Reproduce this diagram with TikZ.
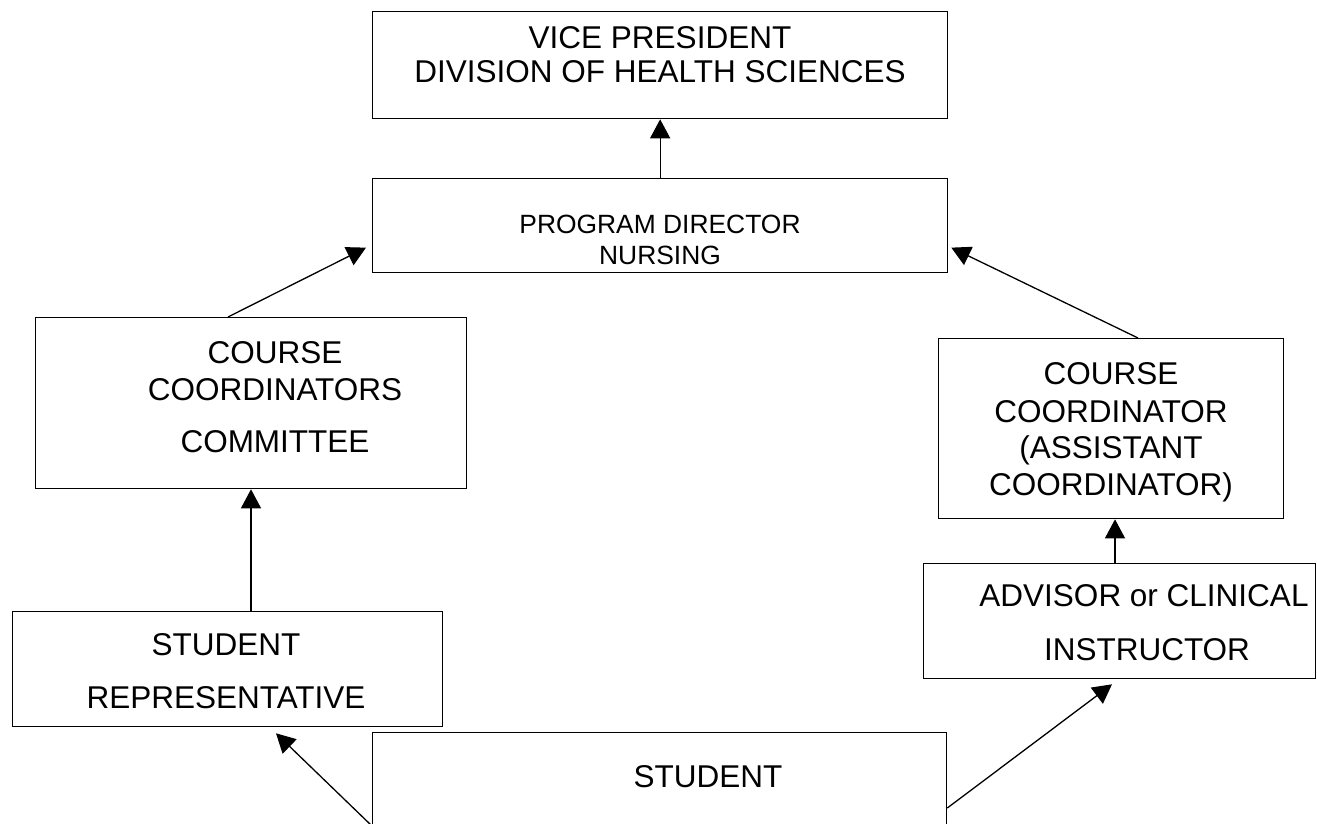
\documentclass[tikz,border=0pt]{standalone}
\usepackage{fontspec}
\setmainfont{Liberation Sans}
\usetikzlibrary{arrows.meta,calc}
\begin{document}
\begin{tikzpicture}[x=1pt,y=-1pt,
  box/.style={draw,line width=1.3pt,inner sep=0pt,anchor=north west},
  big/.style={font=\fontsize{31.5}{36}\selectfont,anchor=base,inner sep=0pt},
  small/.style={font=\fontsize{26.4}{30}\selectfont,anchor=base,inner sep=0pt},
  arr/.style={line width=1.3pt,-{Triangle[length=19pt,width=20pt]}}]
\useasboundingbox (0,0) rectangle (1317,824);
\clip (0,0) rectangle (1317,824);
% boxes
\node[box,minimum width=575pt,minimum height=107pt] (vp) at (372,11) {};
\node[box,minimum width=575pt,minimum height=94pt] (pd) at (372,178) {};
\node[box,minimum width=431pt,minimum height=171pt] (ccc) at (35,317) {};
\node[box,minimum width=345pt,minimum height=180pt] (cc) at (938,338) {};
\node[box,minimum width=392pt,minimum height=115pt] (adv) at (923,563) {};
\node[box,minimum width=430pt,minimum height=115pt] (sr) at (12,611) {};
\node[box,minimum width=574pt,minimum height=130pt] (st) at (372,732) {};
% texts
\node[big] (vp1) at (660,48.3) {VICE PRESIDENT};
\node[big] (vp2) at (660,82.3) {DIVISION OF HEALTH SCIENCES};
\node[small] (pd1) at (660,233.5) {PROGRAM DIRECTOR};
\node[small] (pd2) at (660,264.5) {NURSING};
\node[big] (ccc1) at (275,363.3) {COURSE};
\node[big] (ccc2) at (275,400.3) {COORDINATORS};
\node[big] (ccc3) at (275,452.3) {COMMITTEE};
\node[big] (cc1) at (1111,384.3) {COURSE};
\node[big] (cc2) at (1111,422.3) {COORDINATOR};
\node[big] (cc3) at (1111,458.3) {(ASSISTANT};
\node[big] (cc4) at (1111,495.3) {COORDINATOR)};
\node[big] (sr1) at (226,655.3) {STUDENT};
\node[big] (sr2) at (226,708.3) {REPRESENTATIVE};
\node[big] (adv1) at (1144,606.3) {ADVISOR or CLINICAL};
\node[big] (adv2) at (1147,660.3) {INSTRUCTOR};
\node[big] (st1) at (708,787.3) {STUDENT};
% connectors
\draw[arr] (pd.north) -- (vp.south);
\draw[arr] ([xshift=193pt]ccc.north west) -- ([xshift=-6pt,yshift=-22pt]pd.west);
\draw[arr] ([xshift=200pt]cc.north west) -- ([xshift=3pt,yshift=-22pt]pd.east);
\draw[arr] ([xshift=239pt]sr.north west) -- ([xshift=216pt]ccc.south west);
\draw[arr] ([xshift=192pt]adv.north west) -- ([xshift=177pt]cc.south west);
\draw[arr] ([yshift=-94pt]st.north west) -- ([xshift=264pt,yshift=-6pt]sr.south west);
\draw[arr] ([yshift=-76pt]st.north east) -- ([xshift=189pt,yshift=-5pt]adv.south west);
\end{tikzpicture}
\end{document}
